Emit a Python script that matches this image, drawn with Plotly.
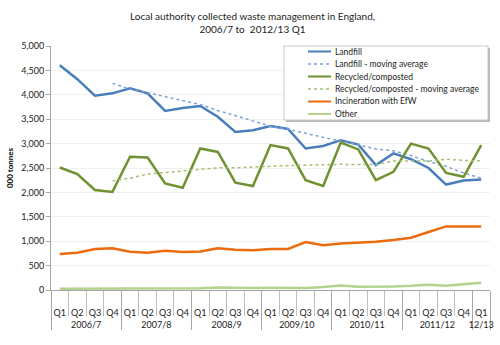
import plotly.graph_objects as go

# ---- data ----
years = ["2006/7"] * 4 + ["2007/8"] * 4 + ["2008/9"] * 4 + ["2009/10"] * 4 + ["2010/11"] * 4 + ["2011/12"] * 4 + ["12/13"]
quarters = ["Q1", "Q2", "Q3", "Q4"] * 6 + ["Q1"]

landfill = [4605, 4320, 3980, 4030, 4135, 4030, 3670, 3730, 3770, 3550, 3240, 3275,
            3360, 3300, 2900, 2950, 3070, 2980, 2560, 2800, 2680, 2500, 2160, 2245, 2265]
landfill_ma = [None, None, None, 4234, 4116, 4044, 3966, 3891, 3800, 3680, 3573, 3459,
               3356, 3294, 3209, 3128, 3055, 2975, 2890, 2853, 2755, 2635, 2535, 2396, 2293]
recycled = [2510, 2375, 2050, 2010, 2730, 2715, 2185, 2095, 2900, 2830, 2200, 2130,
            2970, 2900, 2250, 2130, 3020, 2880, 2250, 2420, 3000, 2900, 2400, 2320, 2970]
recycled_ma = [None, None, None, 2236, 2291, 2376, 2410, 2431, 2474, 2503, 2506, 2515,
               2533, 2550, 2563, 2563, 2575, 2570, 2570, 2643, 2638, 2643, 2680, 2655, 2648]
incineration = [737, 765, 840, 853, 785, 765, 805, 778, 790, 853, 825, 812,
                840, 840, 982, 915, 955, 970, 990, 1025, 1072, 1188, 1303, 1303, 1303]
other = [25, 25, 25, 25, 30, 35, 30, 30, 35, 50, 40, 40,
         45, 45, 40, 60, 90, 65, 65, 70, 85, 110, 85, 115, 150]

series_names = ["Landfill", "Landfill - moving average", "Recycled/composted",
                "Recycled/composted - moving average", "Incineration with EfW", "Other"]
series_values = [landfill, landfill_ma, recycled, recycled_ma, incineration, other]
series_colors = ["#4a7ebb", "#7aa3d8", "#6f9130", "#a5bf72", "#ec6b0c", "#b3d38e"]
series_dash = ["solid", "dot", "solid", "dot", "solid", "solid"]
series_width = [2.5, 1.5, 2.5, 1.5, 2.5, 2.5]

FONT = "Lato"
fig = go.Figure()
# quarter labels get an empty second line so the year row sits lower
x = [years, [q + "<br><span style='font-size:12px'> </span>" for q in quarters]]
for name, vals, col, dash, w in zip(series_names, series_values, series_colors, series_dash, series_width):
    fig.add_trace(go.Scatter(x=x, y=vals, name=name, mode="lines",
                             line=dict(color=col, dash=dash, width=w),
                             connectgaps=False, showlegend=False))

# plot-area geometry (pixels) for the manual legend
L, R, T, B = 51, 490, 46, 290
W, H = R - L, B - T
def px(xp):
    return (xp - L) / W
def py(yp):
    return (B - yp) / H

shapes = []
annotations = []
# legend box with shadow
shapes.append(dict(type="rect", xref="paper", yref="paper", layer="above",
                   x0=px(286), x1=px(490), y0=py(122), y1=py(48),
                   fillcolor="#b8b8b8", line=dict(width=0)))
shapes.append(dict(type="rect", xref="paper", yref="paper", layer="above",
                   x0=px(284), x1=px(488), y0=py(120), y1=py(46),
                   fillcolor="white", line=dict(color="#c8c8c8", width=1)))
for i, (name, col, dash) in enumerate(zip(series_names, series_colors, series_dash)):
    yrow = 51.5 + 12.5 * i
    shapes.append(dict(type="line", xref="paper", yref="paper", layer="above",
                       x0=px(308), x1=px(331), y0=py(yrow), y1=py(yrow),
                       line=dict(color=col, dash=dash, width=2 if dash == "solid" else 1.5)))
    annotations.append(dict(xref="paper", yref="paper", x=px(333), y=py(yrow),
                            xanchor="left", yanchor="middle", text=name, showarrow=False,
                            font=dict(family=FONT, size=8.5, color="#222")))

fig.update_layout(
    width=500, height=345,
    margin=dict(l=L, r=500 - R, t=T, b=345 - B, autoexpand=False),
    paper_bgcolor="white", plot_bgcolor="white",
    font=dict(family=FONT, size=9, color="#222"),
    title=dict(text="Local authority collected waste management in England,<br>2006/7 to  2012/13 Q1",
               x=0.505, xanchor="center", yref="container", y=1 - 20 / 345, yanchor="middle",
               font=dict(family=FONT, size=10, color="#222")),
    showlegend=False,
    shapes=shapes,
    annotations=annotations,
)
fig.update_yaxes(range=[0, 5000], tickvals=[0, 500, 1000, 1500, 2000, 2500, 3000, 3500, 4000, 4500, 5000],
                 tickformat=",", showgrid=True, gridcolor="#efefef", gridwidth=1,
                 showline=True, linecolor="#a6a6a6", linewidth=1,
                 ticks="outside", ticklen=4, tickcolor="#a6a6a6",
                 zeroline=False, automargin=False,
                 tickfont=dict(family=FONT, size=9, color="#222"),
                 title=dict(text="<b>000 tonnes</b>", font=dict(family=FONT, size=8, color="#000"), standoff=6))
fig.update_xaxes(type="multicategory", range=[-0.5, 24.5], showline=True, linecolor="#a6a6a6", linewidth=1,
                 ticks="outside", ticklen=25, tickcolor="#bfbfbf", tickangle=0, automargin=False,
                 showdividers=True, dividercolor="#a6a6a6", dividerwidth=1,
                 ticklabelstandoff=14,
                 tickfont=dict(family=FONT, size=9, color="#222"), showgrid=False)

fig.write_html("out.html")
